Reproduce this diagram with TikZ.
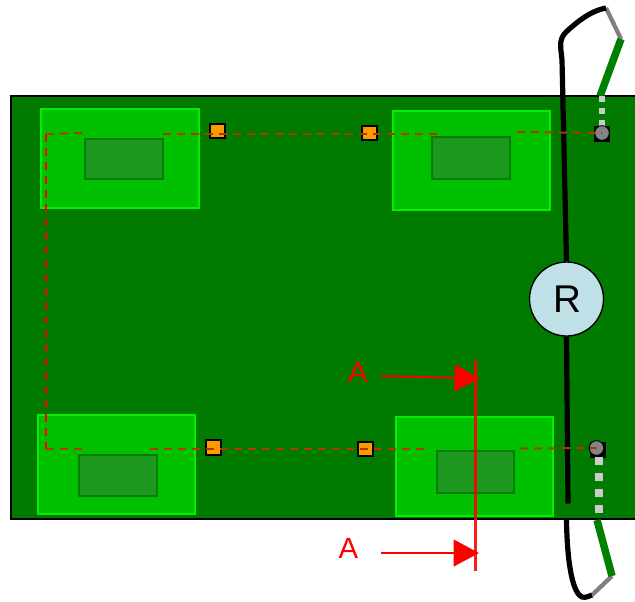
\documentclass[tikz,border=0pt]{standalone}
\usepackage{fontspec}
\setmainfont{Liberation Sans}
\usetikzlibrary{arrows.meta}
\definecolor{board}{HTML}{007B00}
\definecolor{padfill}{HTML}{00C000}
\definecolor{padline}{HTML}{00F000}
\definecolor{corefill}{HTML}{1C981E}
\definecolor{coreline}{HTML}{037F05}
\definecolor{trace}{HTML}{AE3A00}
\definecolor{chip}{HTML}{FF9900}
\definecolor{ball}{HTML}{808688}
\definecolor{rfill}{HTML}{BFE0E6}
\definecolor{cablegreen}{HTML}{008000}
\tikzset{
  x=0.75pt,y=-0.75pt,
  boardbox/.style={draw=black,line width=1.1pt,fill=board},
  padbox/.style={draw=padline,line width=1.5pt,fill=padfill},
  corebox/.style={draw=coreline,line width=1.5pt,fill=corefill},
  chipbox/.style={draw=black,line width=1.5pt,fill=chip,minimum size=11pt,inner sep=0pt,rectangle},
  ballbase/.style={fill=black,draw=black,minimum size=11pt,inner sep=0pt,rectangle},
  ballnode/.style={circle,draw=black,line width=0.7pt,fill=ball,minimum size=11pt,inner sep=0pt},
  wire/.style={draw=black,line width=3.9pt},
  greenwire/.style={draw=cablegreen,line width=5.6pt},
  graywire/.style={draw=gray,line width=3.2pt},
  dotstop/.style={draw=black!20,line width=4.5pt,dash pattern=on 4.5pt off 4.5pt},
  dots/.style={draw=black!20,line width=6pt,dash pattern=on 6pt off 6pt},
  tracedash/.style={draw=trace,line width=1.5pt,dash pattern=on 6pt off 4.5pt},
  tracered/.style={draw=red,line width=1.8pt,dash pattern=on 6pt off 4.5pt},
  cutline/.style={draw=red,line width=2pt,opacity=.9},
  cutarrow/.style={draw=red,line width=1.5pt,-{Triangle[length=19pt,width=20pt]}},
  cutlabel/.style={text=red,font=\fontsize{22}{22}\selectfont,inner sep=0pt},
  rnode/.style={circle,draw=black,line width=1pt,fill=rfill,minimum size=55.5pt,inner sep=0pt,font=\fontsize{29}{29}\selectfont}
}
\begin{document}
\begin{tikzpicture}
\useasboundingbox (0,0) rectangle (635,601);
\begin{scope}
\clip (0,0) rectangle (635,601);
\draw[boardbox] (11,96) rectangle (640,519);
\draw[padbox] (41,109) rectangle (199,208);
\draw[corebox] (84.5,138.5) rectangle (163,179);
\draw[padbox] (393,111) rectangle (550,210);
\draw[corebox] (432,137) rectangle (509.5,179);
\draw[padbox] (37.5,415) rectangle (194.5,514);
\draw[corebox] (78.5,454.5) rectangle (157,496);
\draw[padbox] (396,416.5) rectangle (553,516);
\draw[corebox] (436.5,451) rectangle (514,493);

\node[chipbox] (c1) at (217.5,131) {};
\node[chipbox] (c2) at (369.5,133) {};
\node[chipbox] (c3) at (213.5,447.5) {};
\node[chipbox] (c4) at (365.5,449) {};
\node[ballbase] (b1) at (602,133.5) {};
\node[ballbase] (b2) at (598,449.5) {};

% cable, top
\coordinate (t0) at (606,8);
\coordinate (t1) at (621,39);
\coordinate (t2) at (600,96);
\coordinate (t3) at (602,96);
\coordinate (w0) at (562,60);
\coordinate (w1) at (568,503.5);
\coordinate (w2) at (566.5,520);
\coordinate (w3) at (592,595);
\coordinate (u1) at (612,576);
\coordinate (u2) at (597,520);
\coordinate (u3) at (598.5,513);
\coordinate (u4) at (598.5,456);

\draw[graywire] (t0) -- (t1);
\draw[greenwire] (t1) -- (t2);
\draw[dotstop] (t3) -- (b1.north);
\draw[dots] (u3) -- (u4);
\draw[graywire] (w3) -- (u1);
\draw[greenwire] (u1) -- (u2);

\node[rnode] (R) at (566.5,299) {\raisebox{-2.2pt}{\hspace{1pt}R}};
\draw[wire] (t0) .. controls (590,11) and (577,22) .. (566,32) .. controls (558,40) and (561,48) .. (w0) -- (R.north);
\draw[wire] (R.south) -- (w1);
\draw[wire] (w2) .. controls (567,555) and (571,592) .. (582,597) .. controls (586,598) and (589,596) .. (w3);

\node[ballnode] (g1) at (602,133) {};
\node[ballnode] (g2) at (596.5,448) {};

% traces
\coordinate (p0) at (46,134);
\coordinate (p1) at (82,133);
\coordinate (p2) at (163,134);
\coordinate (p3) at (437,134);
\coordinate (p4) at (517,132);
\coordinate (p5) at (46,449);
\coordinate (p6) at (84,449);
\coordinate (p7) at (150,449);
\coordinate (p8) at (425,449);
\coordinate (p9) at (520,448.5);
\draw[tracered] (p0) -- (p5);
\draw[tracedash] (p0) -- (p1);
\draw[tracedash] (p2) -- (p3);
\draw[tracedash] (p4) -- (g1.center);
\draw[tracedash] (p5) -- (p6);
\draw[tracedash] (p7) -- (p8);
\draw[tracedash] (p9) -- (g2.center);

% section marks
\coordinate (s0) at (475.5,360);
\coordinate (s1) at (475.5,571);
\coordinate (a0) at (381,376);
\coordinate (a1) at (480,378.5);
\coordinate (a2) at (381,553);
\coordinate (a3) at (479,553);
\node[cutlabel] (la) at (358,372) {A};
\node[cutlabel] (lb) at (348.5,548) {A};
\draw[cutarrow] (a0) -- (a1);
\draw[cutarrow] (a2) -- (a3);
\draw[cutline] (s0) -- (s1);
\end{scope}
\end{tikzpicture}
\end{document}
